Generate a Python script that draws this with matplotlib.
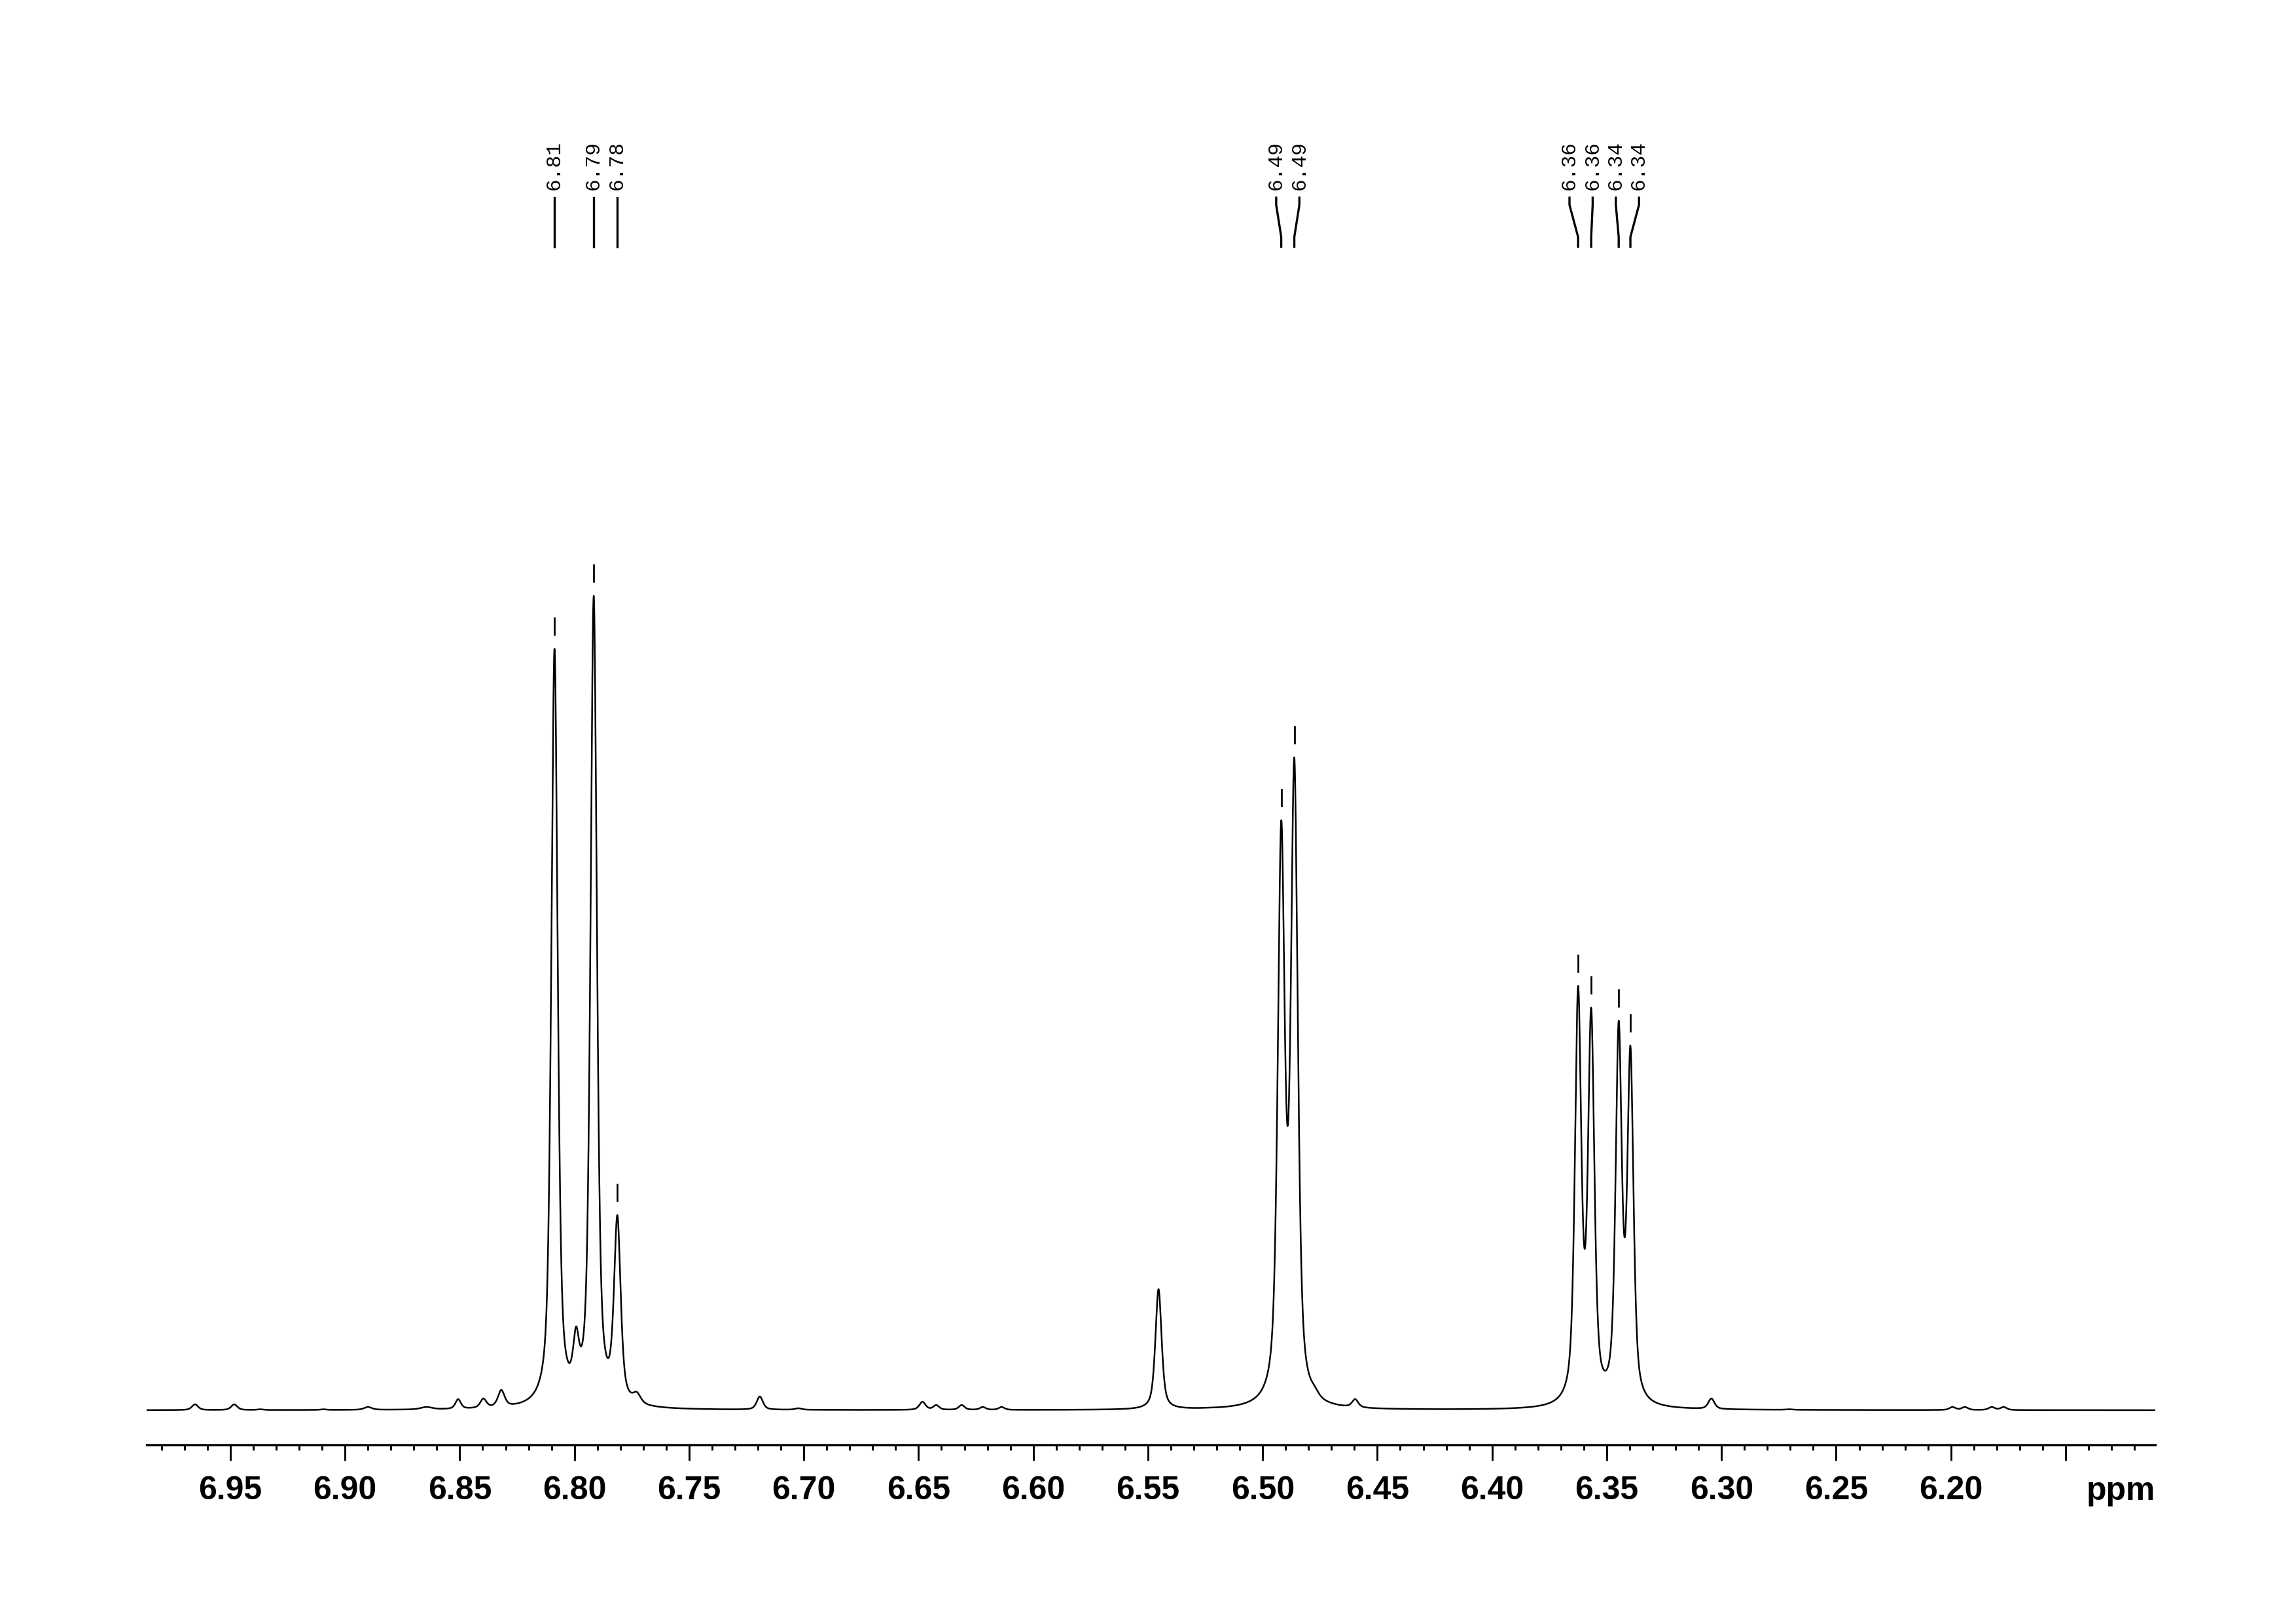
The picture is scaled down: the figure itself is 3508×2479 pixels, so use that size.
import matplotlib
matplotlib.use('Agg')
import matplotlib.pyplot as plt
import numpy as np
from matplotlib.ticker import MultipleLocator, FixedLocator

# peak list: shift (ppm), apparent height, line width (ppm)
shifts = [6.9654, 6.9483, 6.9370, 6.9095, 6.8900, 6.8645, 6.8507, 6.8397, 6.8319,
          6.8087, 6.7993, 6.7916, 6.7813, 6.7728,
          6.7192, 6.7024, 6.6483, 6.6423, 6.6312, 6.6220, 6.6138,
          6.5454, 6.5240, 6.5164,
          6.4919, 6.4862, 6.4773, 6.4597, 6.4343,
          6.3625, 6.3568, 6.3448, 6.3397,
          6.3044, 6.2705, 6.1993, 6.1939, 6.1822, 6.1770]
heights = [9, 9, 1.5, 1.5, 5, 5, 17, 18, 31,
           1163, 128, 1244, 298, 28,
           21, 3, 13, 8, 8, 5, 5,
           185, 4, 4,
           901, 997, 37, 17, 2,
           648, 615, 595, 557,
           18, 1.5, 5, 5, 5, 5]
widths = [0.0032, 0.0032, 0.003, 0.003, 0.004, 0.006, 0.0028, 0.0032, 0.0035,
          0.0033, 0.0030, 0.0033, 0.0034, 0.0040,
          0.0032, 0.0035, 0.0032, 0.0030, 0.0030, 0.0030, 0.0030,
          0.0032, 0.0035, 0.0035,
          0.0036, 0.0036, 0.0040, 0.0032, 0.0035,
          0.0033, 0.0033, 0.0032, 0.0032,
          0.0032, 0.0035, 0.0032, 0.0032, 0.0032, 0.0032]

# picked peaks with labels on top
picked = [6.8087, 6.7916, 6.7813, 6.4919, 6.4862, 6.3625, 6.3568, 6.3448, 6.3397]

ppm_left, ppm_right = 6.9865, 6.1109


def lineshape(x, x0, w, eta=0.6):
    d = (x - x0) / w
    return eta / (1 + 4 * d**2) + (1 - eta) * np.exp(-4 * np.log(2) * d**2)


# amplitudes so that the summed curve hits the read heights
pos = np.array(shifts)
wid = np.array(widths)
hts = np.array(heights, dtype=float)
M = lineshape(pos[:, None], pos[None, :], wid[None, :])
active = np.ones(len(pos), bool)
amp = np.zeros(len(pos))
for it in range(5):
    amp[:] = 0
    amp[active] = np.linalg.lstsq(M[:, active], hts, rcond=None)[0]
    if (amp >= 0).all():
        break
    active &= amp > 0

x = np.linspace(ppm_left, ppm_right, 30000)
y = np.zeros_like(x)
for a, p, w in zip(amp, pos, wid):
    y += a * lineshape(x, p, w)

W, H = 3508, 2479
fig = plt.figure(figsize=(W / 300, H / 300), dpi=300)
ax = fig.add_axes([224 / W, (H - 2207) / H, 3069 / W, (2207 - 150) / H])
ax.plot(x, y, color='black', lw=0.6)
ax.set_xlim(ppm_left, ppm_right)
ax.set_ylim(-53, 2004)

# peak picking labels: spread overlapping ones evenly around their group centre
sep = 0.0101
groups = [[i] for i in range(len(picked))]


def spread(g):
    c = (picked[g[0]] + picked[g[-1]]) / 2
    n = len(g)
    return [c + ((n - 1) / 2 - k) * sep for k in range(n)]


merged = True
while merged:
    merged = False
    for j in range(len(groups) - 1):
        if spread(groups[j])[-1] - spread(groups[j + 1])[0] < sep - 1e-9:
            groups[j] = groups[j] + groups.pop(j + 1)
            merged = True
            break
label_x = [lx for g in groups for lx in spread(g)]

for p, lx in zip(picked, label_x):
    m = np.abs(x - p) < 0.0008
    top = y[m].max()
    ax.plot([p, p], [top + 22, top + 47], color='black', lw=0.65)
    ax.plot([lx, lx, p, p], [1852, 1841, 1792, 1777], color='black', lw=0.8)
    ax.text(lx, 1864, f'{p:.2f}', rotation=90, ha='center', va='bottom',
            family='Liberation Mono', fontsize=7.5)

for s in ['top', 'left', 'right']:
    ax.spines[s].set_visible(False)
ax.spines['bottom'].set_linewidth(0.8)
ax.set_yticks([])
major = np.round(np.arange(6.15, 6.951, 0.05), 2)
ax.xaxis.set_major_locator(FixedLocator(major))
ax.set_xticklabels(['' if abs(t - 6.15) < 1e-6 else f'{t:.2f}' for t in major],
                   family='Liberation Sans', fontweight='bold', fontsize=12)
ax.xaxis.set_minor_locator(MultipleLocator(0.01))
ax.tick_params(axis='x', which='major', length=5.8, width=0.7, direction='out', pad=5.5)
ax.tick_params(axis='x', which='minor', length=1.9, width=0.7, direction='out')

fig.text(3293 / W, (H - 2291) / H, 'ppm', ha='right', va='baseline',
         family='Liberation Sans', fontweight='bold', fontsize=12)

fig.savefig('out.png', dpi=300)
